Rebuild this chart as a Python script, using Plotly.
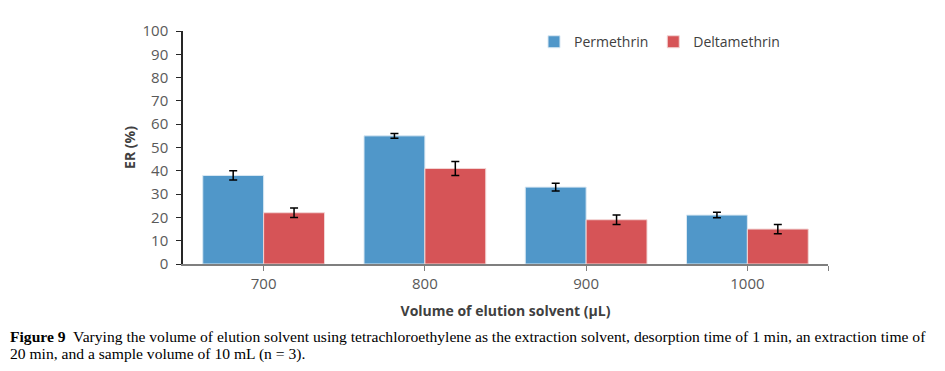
import plotly.graph_objects as go

categories = ["700", "800", "900", "1000"]
permethrin = [38, 55, 33, 21]
permethrin_err = [2, 1, 1.7, 1.2]
deltamethrin = [22, 41, 19, 15]
deltamethrin_err = [2, 3, 2, 2]
y_ticks = list(range(0, 101, 10))

# page body adds an 8px margin; lay out in screen coordinates minus that offset
OFF = 8
W, H = 945 - OFF, 371 - OFF
L, T = 183 - OFF, 24 - OFF
R = W - (828 - OFF)
B = H - (264 - OFF)
pw, ph = W - L - R, H - T - B

def px_x(p):
    return (p - OFF - L) / pw

def px_y(p):
    return (H - B - (p - OFF)) / ph

xs = list(range(len(categories)))

fig = go.Figure()
fig.add_trace(go.Bar(
    x=xs, y=permethrin, name="Permethrin",
    marker=dict(color="#5097C9", line=dict(color="#D9E8F3", width=1)),
    error_y=dict(type="data", array=permethrin_err, color="black", thickness=1.5, width=4),
))
fig.add_trace(go.Bar(
    x=xs, y=deltamethrin, name="Deltamethrin",
    marker=dict(color="#D65457", line=dict(color="#F2D5D5", width=1)),
    error_y=dict(type="data", array=deltamethrin_err, color="black", thickness=1.5, width=4),
))

fig.update_layout(
    width=W, height=H,
    margin=dict(l=L, r=R, t=T, b=B),
    paper_bgcolor="white", plot_bgcolor="white",
    barmode="group", bargap=0.245, bargroupgap=0,
    font=dict(family="Open Sans, Liberation Sans, sans-serif", size=14, color="#595959"),
    showlegend=True,
    legend=dict(orientation="h", x=px_x(534), y=px_y(19), xanchor="left", yanchor="top",
                font=dict(size=14, color="#404040"), bgcolor="rgba(0,0,0,0)",
                itemwidth=30, traceorder="normal"),
    xaxis=dict(
        range=[-0.5, 3.5], tickvals=xs + [3.5], ticktext=categories + [""],
        showline=True, linecolor="#7F7F7F", linewidth=1.5,
        ticks="outside", ticklen=5, tickcolor="#7F7F7F", showgrid=False, zeroline=False,
        tickfont=dict(size=15, color="#595959"),
        title=dict(text="<b>Volume of elution solvent (µL)</b>", standoff=14,
                   font=dict(size=14, color="#404040")),
    ),
    yaxis=dict(
        range=[0, 100], tickvals=y_ticks,
        showline=True, linecolor="#262626", linewidth=1.5,
        ticks="outside", ticklen=5, tickcolor="#262626", showgrid=False, zeroline=False,
        tickfont=dict(size=15, color="#595959"), ticklabelstandoff=5,
        title=dict(text="<b>ER (%)</b>", standoff=4, font=dict(size=14, color="#404040")),
    ),
)

cap_font = dict(family="Liberation Serif, DejaVu Serif, serif", size=15.6, color="black")
fig.add_annotation(
    xref="paper", yref="paper", x=px_x(OFF), y=px_y(339), xanchor="left", yanchor="middle",
    showarrow=False, align="left", font=cap_font,
    text="<b>Figure 9</b>  Varying the volume of elution solvent using tetrachloroethylene as the extraction solvent, desorption time of 1 min, an extraction time of",
)
fig.add_annotation(
    xref="paper", yref="paper", x=px_x(OFF), y=px_y(357), xanchor="left", yanchor="middle",
    showarrow=False, align="left", font=cap_font,
    text="20 min, and a sample volume of 10 mL (n = 3).",
)

fig.write_html("out.html")
